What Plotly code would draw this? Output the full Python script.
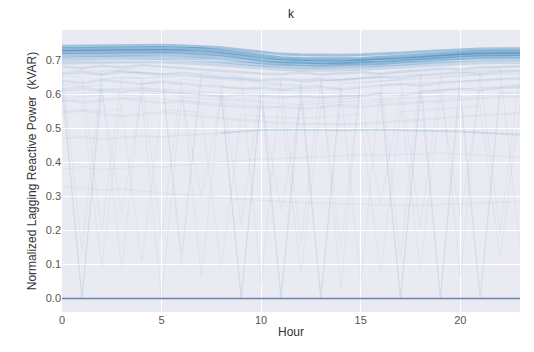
import plotly.graph_objects as go

hours = list(range(24))

# dense top band
top_a = [0.742,0.743,0.744,0.745,0.745,0.745,0.744,0.742,0.738,0.731,0.724,0.719,0.717,0.716,0.716,0.717,0.719,0.722,0.726,0.729,0.732,0.734,0.735,0.735]
top_b = [0.733,0.734,0.735,0.736,0.736,0.736,0.735,0.733,0.728,0.720,0.712,0.707,0.705,0.704,0.704,0.705,0.707,0.711,0.715,0.719,0.723,0.725,0.726,0.726]
top_c = [0.725,0.726,0.727,0.728,0.728,0.728,0.727,0.724,0.719,0.711,0.703,0.698,0.696,0.695,0.695,0.697,0.699,0.703,0.707,0.712,0.716,0.718,0.719,0.719]
top_d = [0.716,0.717,0.718,0.719,0.719,0.719,0.717,0.714,0.709,0.702,0.695,0.691,0.689,0.688,0.689,0.690,0.693,0.697,0.701,0.705,0.709,0.711,0.712,0.712]
top_e = [0.705,0.707,0.708,0.709,0.709,0.708,0.706,0.703,0.699,0.693,0.687,0.684,0.682,0.682,0.683,0.685,0.687,0.691,0.695,0.699,0.702,0.704,0.705,0.705]
top_f = [0.694,0.695,0.697,0.698,0.698,0.697,0.695,0.692,0.688,0.683,0.678,0.675,0.673,0.673,0.674,0.676,0.678,0.682,0.686,0.690,0.693,0.695,0.696,0.696]

# fainter middle lines
mid_1 = [0.682,0.678,0.685,0.680,0.686,0.681,0.678,0.674,0.670,0.665,0.662,0.660,0.665,0.659,0.663,0.666,0.661,0.668,0.672,0.677,0.674,0.680,0.682,0.684]
mid_2 = [0.662,0.667,0.660,0.669,0.663,0.658,0.664,0.657,0.652,0.648,0.643,0.646,0.640,0.645,0.642,0.648,0.652,0.649,0.656,0.660,0.664,0.661,0.667,0.669]
mid_3 = [0.640,0.634,0.643,0.637,0.631,0.639,0.632,0.627,0.624,0.617,0.621,0.614,0.619,0.623,0.616,0.622,0.627,0.631,0.626,0.634,0.638,0.642,0.645,0.647]
mid_4 = [0.615,0.622,0.613,0.607,0.616,0.610,0.604,0.599,0.593,0.601,0.595,0.590,0.597,0.592,0.598,0.594,0.603,0.599,0.606,0.611,0.617,0.613,0.620,0.623]
mid_5 = [0.585,0.577,0.583,0.590,0.581,0.575,0.580,0.572,0.567,0.563,0.560,0.565,0.558,0.562,0.567,0.564,0.569,0.573,0.577,0.581,0.586,0.590,0.593,0.595]
mid_6 = [0.545,0.553,0.543,0.536,0.542,0.548,0.541,0.535,0.530,0.525,0.521,0.517,0.513,0.515,0.512,0.514,0.517,0.521,0.525,0.531,0.535,0.540,0.543,0.545]
band_05 = [None,None,None,None,None,None,None,None,0.487,0.492,0.496,0.497,0.496,0.497,0.495,0.496,0.497,0.495,0.494,0.493,0.491,0.488,0.485,0.482]
band_05_faint = [0.470,0.475,0.468,0.472,0.478,0.474,0.480,0.483,0.487,None,None,None,None,None,None,None,None,None,None,None,None,None,None,None]
low_1 = [0.380,0.386,0.379,0.383,0.390,0.385,0.392,0.398,0.402,0.405,0.410,0.412,0.415,0.417,0.420,0.423,0.421,0.424,0.426,0.428,0.425,0.421,0.418,0.415]
low_2 = [0.330,0.325,0.318,0.322,0.315,0.310,0.306,0.300,0.296,0.292,0.288,0.285,0.282,0.280,0.278,0.276,0.275,0.274,0.275,0.276,0.278,0.280,0.283,0.286]

# lines that dip towards zero at single hours
dip_1 = [0.640,0.000,0.645,0.650,0.648,0.652,0.655,0.650,0.646,0.640,0.635,0.630,0.628,0.000,0.632,0.636,0.640,0.644,0.648,0.652,0.655,0.658,0.660,0.662]
dip_2 = [0.610,0.615,0.612,0.618,0.620,0.616,0.612,0.608,0.605,0.000,0.598,0.595,0.592,0.590,0.594,0.598,0.602,0.000,0.610,0.614,0.618,0.620,0.622,0.625]
dip_3 = [0.660,0.662,0.658,0.664,0.666,0.662,0.658,0.655,0.650,0.645,0.640,0.000,0.636,0.640,0.644,0.648,0.652,0.656,0.660,0.000,0.664,0.668,0.670,0.672]
dip_4 = [0.590,0.595,0.598,0.600,0.596,0.000,0.592,0.588,0.584,0.580,0.576,0.572,0.570,0.574,0.578,0.582,0.586,0.590,0.594,0.598,0.600,0.000,0.604,0.606]
dip_5 = [0.630,0.625,0.628,0.080,0.632,0.635,0.630,0.060,0.622,0.618,0.615,0.612,0.610,0.614,0.618,0.050,0.626,0.630,0.634,0.638,0.640,0.643,0.645,0.648]
dip_6 = [0.580,0.585,0.090,0.588,0.590,0.586,0.582,0.578,0.574,0.570,0.566,0.562,0.070,0.566,0.570,0.574,0.578,0.582,0.080,0.590,0.594,0.598,0.600,0.602]
dip_7 = [0.670,0.672,0.668,0.674,0.676,0.672,0.100,0.665,0.660,0.655,0.040,0.648,0.645,0.648,0.030,0.656,0.660,0.664,0.668,0.672,0.060,0.678,0.680,0.682]
dip_8 = [0.550,0.555,0.552,0.558,0.110,0.556,0.552,0.548,0.090,0.540,0.536,0.532,0.530,0.534,0.538,0.542,0.070,0.550,0.554,0.558,0.562,0.566,0.120,0.570]
dip_9 = [0.620,0.000,0.618,0.615,0.612,0.608,0.604,0.600,0.596,0.000,0.590,0.000,0.592,0.000,0.596,0.600,0.604,0.000,0.612,0.000,0.620,0.000,0.626,0.630]
dip_10 = [0.655,0.650,0.200,0.652,0.648,0.180,0.645,0.640,0.636,0.220,0.630,0.626,0.624,0.628,0.150,0.636,0.640,0.644,0.210,0.652,0.656,0.660,0.190,0.666]
dip_11 = [0.600,0.604,0.608,0.250,0.606,0.602,0.598,0.300,0.590,0.586,0.582,0.260,0.578,0.582,0.586,0.590,0.280,0.598,0.602,0.606,0.240,0.614,0.618,0.620]
dip_12 = [0.675,0.140,0.672,0.668,0.664,0.660,0.130,0.652,0.648,0.644,0.640,0.636,0.160,0.640,0.644,0.648,0.652,0.120,0.660,0.664,0.668,0.672,0.676,0.150]

zero_line = [0.0,0.0,0.0,0.0,0.0,0.0,0.0,0.0,0.0,0.0,0.0,0.0,0.0,0.0,0.0,0.0,0.0,0.0,0.0,0.0,0.0,0.0,0.0,0.0]

x_ticks = [0, 5, 10, 15, 20]
y_ticks = [0.0, 0.1, 0.2, 0.3, 0.4, 0.5, 0.6, 0.7]
y_tick_text = ["0.0", "0.1", "0.2", "0.3", "0.4", "0.5", "0.6", "0.7"]

series = [
    (top_f, 0.16, 4.0), (top_e, 0.22, 4.0), (top_d, 0.30, 4.0), (top_c, 0.42, 4.0), (top_b, 0.45, 4.0), (top_a, 0.35, 3.0),
    (mid_1, 0.12, 2.5), (mid_2, 0.10, 2.5), (mid_3, 0.08, 2.5), (mid_4, 0.07, 2.5), (mid_5, 0.06, 2.5),
    (mid_6, 0.05, 2.5), (band_05, 0.15, 2.0), (band_05_faint, 0.06, 2.0), (low_1, 0.05, 1.5), (low_2, 0.05, 1.5),
    (dip_1, 0.07, 1.2), (dip_2, 0.07, 1.2), (dip_3, 0.07, 1.2), (dip_4, 0.06, 1.2), (dip_5, 0.05, 1.2),
    (dip_6, 0.05, 1.2), (dip_7, 0.05, 1.2), (dip_8, 0.05, 1.2), (dip_9, 0.06, 1.2),
    (dip_10, 0.05, 1.2), (dip_11, 0.05, 1.2), (dip_12, 0.05, 1.2),
]

fig = go.Figure()
for vals, alpha, w in series:
    fig.add_trace(go.Scatter(
        x=hours, y=vals, mode="lines",
        line=dict(color=f"rgba(31,119,180,{alpha})", width=w),
        showlegend=False, hoverinfo="skip", connectgaps=False,
    ))
fig.add_trace(go.Scatter(
    x=hours, y=zero_line, mode="lines",
    line=dict(color="rgba(80,115,160,0.85)", width=1.5),
    showlegend=False, hoverinfo="skip",
))

font_family = "Liberation Sans, Arial, sans-serif"
fig.update_layout(
    width=534, height=352,
    margin=dict(l=62, r=14, t=30, b=40),
    paper_bgcolor="white",
    plot_bgcolor="#EAEAF2",
    font=dict(family=font_family, color="#333333", size=11),
    title=dict(text="k", x=0.5, xanchor="center", xref="paper", y=0.962, yanchor="middle",
               font=dict(size=12, color="#262626")),
    xaxis=dict(
        range=[0, 23], tickvals=x_ticks, showgrid=True, gridcolor="white", gridwidth=1,
        zeroline=False, showline=False, ticks="", tickfont=dict(size=11, color="#555555"),
        title=dict(text="Hour", font=dict(size=12, color="#333333"), standoff=2),
    ),
    yaxis=dict(
        range=[-0.04, 0.79], tickvals=y_ticks, ticktext=y_tick_text, showgrid=True,
        gridcolor="white", gridwidth=1, zeroline=False, showline=False, ticks="",
        tickfont=dict(size=11, color="#555555"),
        title=dict(text="Normalized Lagging Reactive Power  (kVAR)", font=dict(size=12, color="#333333"), standoff=6),
    ),
)

fig.write_html("out.html")
